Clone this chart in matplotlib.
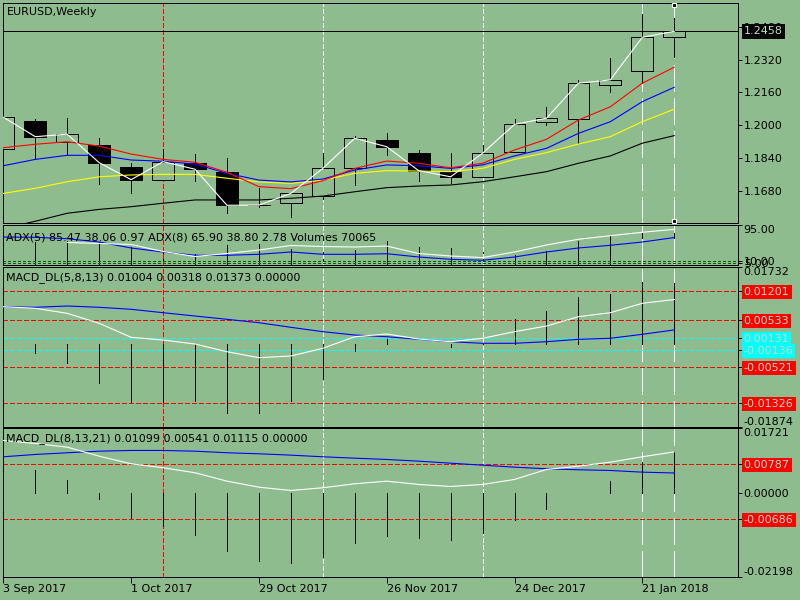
import numpy as np
import matplotlib.pyplot as plt
from matplotlib.patches import Rectangle

plt.rcParams['patch.antialiased'] = False

BG = '#8fbc8f'
LIGHT = '#c4dcc4'

# weekly EURUSD candles, 3 Sep 2017 .. 28 Jan 2018
opens = [1.1882, 1.2020, 1.1919, 1.1902, 1.1794, 1.1731, 1.1814, 1.1771, 1.1608, 1.1619, 1.1656,
         1.1789, 1.1928, 1.1863, 1.1770, 1.1746, 1.1871, 1.2014, 1.2029, 1.2195, 1.2266, 1.2429]
highs = [1.2039, 1.2030, 1.2035, 1.1938, 1.1814, 1.1884, 1.1859, 1.1838, 1.1695, 1.1670, 1.1864,
         1.1947, 1.1963, 1.1879, 1.1863, 1.1903, 1.2030, 1.2087, 1.2221, 1.2327, 1.2543, 1.2522]
lows = [1.1882, 1.1835, 1.1859, 1.1714, 1.1670, 1.1731, 1.1727, 1.1573, 1.1600, 1.1553, 1.1638,
        1.1708, 1.1854, 1.1727, 1.1719, 1.1746, 1.1871, 1.2001, 1.1915, 1.2164, 1.2208, 1.2335]
closes = [1.2039, 1.1944, 1.1956, 1.1817, 1.1734, 1.1822, 1.1785, 1.1609, 1.1610, 1.1667, 1.1789,
          1.1936, 1.1895, 1.1778, 1.1748, 1.1863, 1.2004, 1.2034, 1.2205, 1.2221, 1.2429, 1.2458]

ma_red = [1.1890, 1.1907, 1.1919, 1.1898, 1.1859, 1.1833, 1.1819, 1.1770, 1.1700, 1.1690, 1.1729,
          1.1789, 1.1825, 1.1814, 1.1792, 1.1814, 1.1879, 1.1931, 1.2025, 1.2090, 1.2205, 1.2283]
ma_blue = [1.1802, 1.1833, 1.1853, 1.1853, 1.1830, 1.1824, 1.1810, 1.1765, 1.1732, 1.1723, 1.1737,
           1.1781, 1.1806, 1.1802, 1.1789, 1.1806, 1.1850, 1.1887, 1.1960, 1.2017, 1.2115, 1.2185]
ma_yellow = [1.1667, 1.1692, 1.1724, 1.1748, 1.1757, 1.1760, 1.1760, 1.1741, 1.1723, 1.1716, 1.1732,
             1.1765, 1.1778, 1.1776, 1.1773, 1.1789, 1.1833, 1.1866, 1.1908, 1.1944, 1.2017, 1.2078]
ma_black = [1.1495, 1.1531, 1.1570, 1.1589, 1.1602, 1.1619, 1.1635, 1.1635, 1.1635, 1.1643, 1.1654,
            1.1675, 1.1695, 1.1703, 1.1708, 1.1724, 1.1748, 1.1773, 1.1814, 1.1850, 1.1912, 1.1949]
bid = 1.2458
price_ticks = [1.1680, 1.1840, 1.2000, 1.2160, 1.2320, 1.2480]

adx5 = [np.nan, np.nan, 54.2, 51.8, 49.4, 32.8, 20.9, 28.0, 36.3, 47.0, 44.6,
        43.5, 45.8, 28.0, 22.1, 18.3, 31.6, 48.2, 61.8, 70.3, 78.4, 85.47]
adx8 = [67.2, 66.5, 63.2, 55.3, 41.1, 31.6, 23.8, 23.8, 26.1, 31.6, 26.1,
        26.1, 27.5, 19.7, 14.3, 11.9, 19.7, 31.6, 41.1, 47.5, 55.3, 65.90]
adx_levels = [10.9, 5.5]
volumes = [44000, 44600, 47900, 44600, 36400, 25500, 22200, 40200, 40800, 31800, 32500,
           28700, 47900, 35000, 33100, 33100, 19100, 26800, 47900, 56100, 71400, 70065]

macd1_main = [0.00842, 0.00806, 0.00693, 0.00467, 0.00151, 0.00090, 0.00000, -0.00174, -0.00309,
              -0.00271, -0.00097, 0.00165, 0.00226, 0.00113, 0.00052, 0.00129, 0.00278, 0.00406,
              0.00616, 0.00707, 0.00919, 0.01004]
macd1_signal = [0.00842, 0.00829, 0.00858, 0.00829, 0.00784, 0.00707, 0.00632, 0.00558, 0.00481,
                0.00377, 0.00278, 0.00203, 0.00165, 0.00106, 0.00052, 0.00016, 0.00016, 0.00052,
                0.00106, 0.00129, 0.00219, 0.00318]
macd1_hist = [np.nan, -0.00196, -0.00422, -0.00874, -0.01316, -0.01316, -0.01287, -0.01551, -0.01551,
              -0.01287, -0.00783, -0.00151, 0.00120, 0.00010, -0.00060, 0.00030, 0.00560, 0.00740,
              0.01060, 0.01140, 0.01410, 0.01373]
macd1_red = [0.01201, 0.00533, -0.00521, -0.01326]
macd1_cyan = [0.00131, -0.00136]
macd1_range = (-0.01874, 0.01732)

macd2_main = [0.01400, 0.01320, 0.01223, 0.00985, 0.00784, 0.00679, 0.00547, 0.00325, 0.00166,
              0.00079, 0.00151, 0.00256, 0.00325, 0.00238, 0.00185, 0.00238, 0.00370, 0.00634,
              0.00721, 0.00827, 0.00969, 0.01099]
macd2_signal = [0.00969, 0.01030, 0.01075, 0.01117, 0.01136, 0.01136, 0.01117, 0.01075, 0.01048,
                0.01012, 0.00969, 0.00932, 0.00898, 0.00853, 0.00800, 0.00747, 0.00695, 0.00652,
                0.00626, 0.00607, 0.00563, 0.00541]
macd2_hist = [np.nan, 0.00607, 0.00343, -0.00140, -0.00660, -0.00860, -0.01100, -0.01520, -0.01790,
              -0.01840, -0.01680, -0.01310, -0.01130, -0.01180, -0.01240, -0.01050, -0.00710, -0.00410,
              0.00010, 0.00340, 0.00840, 0.01115]
macd2_red = [0.00787, -0.00686]
macd2_range = (-0.02198, 0.01721)

date_idx = [0, 4, 8, 12, 16, 20]
date_labels = ['3 Sep 2017', '1 Oct 2017', '29 Oct 2017', '26 Nov 2017', '24 Dec 2017', '21 Jan 2018']

W, H = 800, 600
fig = plt.figure(figsize=(8, 6), dpi=100, facecolor=BG)
x = np.arange(len(closes))
PX = 0.7   # about one pixel, in points
LW = 0.8   # smoothed indicator lines
SL = 1.0   # straight dashed level/marker lines (unsmoothed)
DOT = (0, (3, 1.5))
LONG = (0, (19, 4.5))


def panel(top, bottom):
    ax = fig.add_axes([2.7 / W, 1 - bottom / H, (737.5 - 2.7) / W, (bottom - top) / H])
    ax.set_facecolor(BG)
    for s in ax.spines.values():
        s.set_color('black')
        s.set_linewidth(PX)
        s.set_antialiased(False)
    ax.set_xlim(-0.02, 22.98)
    ax.set_xticks([])
    ax.yaxis.tick_right()
    ax.tick_params(axis='y', direction='out', length=3, width=PX, labelsize=8, pad=1.5, colors='black')
    return ax


def hline(ax, v, color, ls=DOT, lw=SL):
    ax.axhline(v, color=color, ls=ls, lw=lw, antialiased=False, zorder=1)


def vmarks(ax):
    ax.axvline(5, color='red', ls=DOT, lw=SL, antialiased=False, zorder=1)
    for k in (10, 15):
        ax.axvline(k, color='white', ls=DOT, lw=SL, antialiased=False, zorder=1)
    for k in (20, 21):
        ax.axvline(k, color='white', ls=LONG, lw=SL, antialiased=False, zorder=1)


def bars(ax, vals, bottom=0):
    ax.vlines(x, bottom, vals, color='black', lw=PX, antialiaseds=False, zorder=3)


def boxed_ticks(ax, plain, boxes, top, bottom):
    vals = [top] + plain + [b[0] for b in boxes] + [bottom]
    ax.set_yticks(vals)
    ax.set_yticklabels(['%.5f' % v for v in vals])
    labels = ax.get_yticklabels()
    labels[0].set_verticalalignment('top')
    labels[-1].set_verticalalignment('bottom')
    for lbl, (v, c) in zip(labels[1 + len(plain):-1], boxes):
        lbl.set_color(LIGHT)
        lbl.set_bbox(dict(boxstyle='square,pad=0.18', fc=c, ec='none'))


# main price panel
ax = panel(2.7, 223.3)
ax.set_ylim(1.1521, 1.2598)
vmarks(ax)
ax.vlines(x, lows, highs, color='black', lw=PX, antialiaseds=False, zorder=2)
for i in x:
    o, c = opens[i], closes[i]
    ax.add_patch(Rectangle((i - 0.34, min(o, c)), 0.68, abs(c - o),
                           facecolor=BG if c >= o else 'black', edgecolor='black',
                           lw=PX, zorder=3))
ax.plot(x, ma_black, color='black', lw=LW, zorder=4)
ax.plot(x, ma_yellow, color='yellow', lw=LW, zorder=4)
ax.plot(x, ma_blue, color='blue', lw=LW, zorder=4)
ax.plot(x, ma_red, color='red', lw=LW, zorder=4)
ax.plot(x, closes, color='white', lw=LW, zorder=5)
hline(ax, bid, 'black', ls='-', lw=PX)
ax.plot([21, 21], [1.2585, 1.1534], ls='none', marker='s', ms=3.2,
        mfc='black', mec='white', mew=0.8, zorder=6)
ax.set_yticks(price_ticks)
ax.set_yticklabels(['%.4f' % v for v in price_ticks])
ax.annotate('%.4f' % bid, xy=(1, bid), xycoords=('axes fraction', 'data'),
            xytext=(4.5, 0), textcoords='offset points', va='center', ha='left',
            fontsize=8, color=LIGHT, zorder=10, annotation_clip=False,
            bbox=dict(boxstyle='square,pad=0.2', fc='black', ec='none'))
fig.text(7 / W, 1 - 12 / H, 'EURUSD,Weekly', fontsize=8, va='center', ha='left')

# ADX + volumes panel
ax = panel(225.3, 265.3)
vax = ax.twinx()
ax.yaxis.tick_right()
ax.yaxis.set_label_position('right')
ax.set_ylim(0, 95)
vax.set_ylim(0, 77500)
vax.set_yticks([])
vax.set_xlim(-0.02, 22.98)
for s in vax.spines.values():
    s.set_visible(False)
bars(vax, volumes)
ax.set_zorder(vax.get_zorder() + 1)
ax.patch.set_visible(False)
vax.patch.set_visible(True)
vax.patch.set_facecolor(BG)
vmarks(ax)
for lv in adx_levels:
    hline(ax, lv, '#006400', ls=(0, (2, 1.5)))
ax.plot(x, adx8, color='blue', lw=LW, zorder=3)
ax.plot(x, adx5, color='white', lw=LW, zorder=3)
ax.set_yticks([95] + adx_levels)
ax.set_yticklabels(['95.00', '10.00', '5.00'])
ax.get_yticklabels()[0].set_verticalalignment('top')
fig.text(6 / W, 1 - 237 / H, 'ADX(5) 85.47 38.06 0.97 ADX(8) 65.90 38.80 2.78 Volumes 70065',
         fontsize=8, va='center', ha='left')

# MACD_DL(5,8,13)
ax = panel(267.3, 427)
ax.set_ylim(*macd1_range)
vmarks(ax)
for lv in macd1_red:
    hline(ax, lv, 'red')
for lv in macd1_cyan:
    hline(ax, lv, 'cyan')
bars(ax, macd1_hist)
ax.plot(x, macd1_signal, color='blue', lw=LW, zorder=4)
ax.plot(x, macd1_main, color='white', lw=LW, zorder=4)
boxed_ticks(ax, [], [(macd1_red[0], 'red'), (macd1_red[1], 'red'), (macd1_cyan[0], 'cyan'),
                     (macd1_cyan[1], 'cyan'), (macd1_red[2], 'red'), (macd1_red[3], 'red')],
            macd1_range[1], macd1_range[0])
fig.text(6 / W, 1 - 278 / H, 'MACD_DL(5,8,13) 0.01004 0.00318 0.01373 0.00000',
         fontsize=8, va='center', ha='left')

# MACD_DL(8,13,21)
ax = panel(428.3, 576.7)
ax.set_ylim(*macd2_range)
vmarks(ax)
for lv in macd2_red:
    hline(ax, lv, 'red')
bars(ax, macd2_hist)
ax.plot(x, macd2_signal, color='blue', lw=LW, zorder=4)
ax.plot(x, macd2_main, color='white', lw=LW, zorder=4)
boxed_ticks(ax, [0.0], [(macd2_red[0], 'red'), (macd2_red[1], 'red')],
            macd2_range[1], macd2_range[0])
ax.set_xticks(date_idx)
ax.set_xticklabels(date_labels, ha='left')
ax.tick_params(axis='x', direction='out', length=4, width=PX, labelsize=8, pad=1)
fig.text(6 / W, 1 - 439 / H, 'MACD_DL(8,13,21) 0.01099 0.00541 0.01115 0.00000',
         fontsize=8, va='center', ha='left')

fig.savefig('out.png', dpi=100, facecolor=BG)
